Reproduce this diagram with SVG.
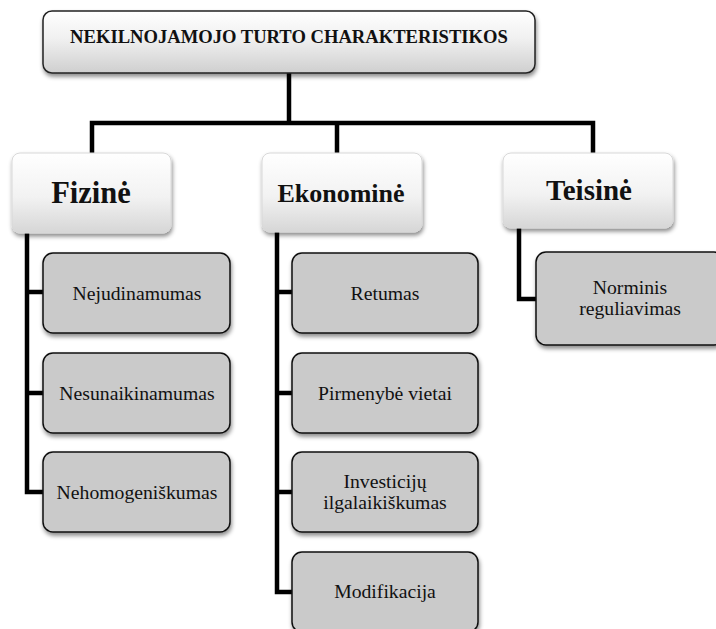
<svg xmlns="http://www.w3.org/2000/svg" width="716" height="629" viewBox="0 0 716 629">
<defs>
<linearGradient id="g1" x1="0" y1="0" x2="0" y2="1">
<stop offset="0" stop-color="#ffffff"/>
<stop offset="0.45" stop-color="#f0f0f0"/>
<stop offset="1" stop-color="#cfcfcf"/>
</linearGradient>
<linearGradient id="g2" x1="0" y1="0" x2="0" y2="1">
<stop offset="0" stop-color="#ffffff"/>
<stop offset="0.55" stop-color="#f2f2f2"/>
<stop offset="1" stop-color="#d6d6d6"/>
</linearGradient>
<filter id="sh" x="-10%" y="-10%" width="125%" height="135%">
<feDropShadow dx="1" dy="3" stdDeviation="2" flood-color="#000" flood-opacity="0.45"/>
</filter>
</defs>
<style>
.top{fill:url(#g1);stroke:#222;stroke-width:1.5;filter:url(#sh)}
.cat{fill:url(#g2);stroke:#d8d8d8;stroke-width:1;filter:url(#sh)}
.leaf{fill:#cacaca;stroke:#111;stroke-width:1.5;filter:url(#sh)}
.t{font-family:"Liberation Serif","Times New Roman",serif;fill:#111;text-anchor:middle}
.tb{font-weight:bold}
.ln{fill:none;stroke:#000;stroke-width:4.5;stroke-linejoin:miter;stroke-linecap:butt}
</style>
<g id="connectors">
<path class="ln" d="M289,73 V123"/>
<path class="ln" d="M92,153 V123 H593 V153"/>
<path class="ln" d="M337,123 V153"/>
<path class="ln" d="M27,233 V492 H43"/>
<path class="ln" d="M27,292 H43 M27,393 H43"/>
<path class="ln" d="M277,232 V592 H292"/>
<path class="ln" d="M277,292 H292 M277,393 H292 M277,492 H292"/>
<path class="ln" d="M519,228 V299 H536"/>
</g>
<g id="root">
<rect class="top" x="43" y="11" width="492" height="62" rx="9"/>
<text class="t tb" x="289" y="43" font-size="18.6">NEKILNOJAMOJO TURTO CHARAKTERISTIKOS</text>
</g>
<g id="fizine">
<rect class="cat" x="12" y="153" width="159" height="80" rx="8"/>
<text class="t tb" x="91" y="203" font-size="30.5">Fizinė</text>
</g>
<g id="ekonomine">
<rect class="cat" x="262" y="153" width="160" height="79" rx="8"/>
<text class="t tb" x="341" y="202" font-size="26">Ekonominė</text>
</g>
<g id="teisine">
<rect class="cat" x="503" y="153" width="170" height="75" rx="8"/>
<text class="t tb" x="589" y="200" font-size="29">Teisinė</text>
</g>
<g id="nejudinamumas">
<rect class="leaf" x="43" y="253" width="187" height="80" rx="10"/>
<text class="t" x="137" y="300" font-size="19.7">Nejudinamumas</text>
</g>
<g id="nesunaikinamumas">
<rect class="leaf" x="43" y="353" width="187" height="80" rx="10"/>
<text class="t" x="137" y="400" font-size="19.7">Nesunaikinamumas</text>
</g>
<g id="nehomogeniskumas">
<rect class="leaf" x="43" y="452" width="187" height="80" rx="10"/>
<text class="t" x="137" y="499" font-size="19.7">Nehomogeniškumas</text>
</g>
<g id="retumas">
<rect class="leaf" x="292" y="253" width="186" height="80" rx="10"/>
<text class="t" x="385" y="300" font-size="19.7">Retumas</text>
</g>
<g id="pirmenybe">
<rect class="leaf" x="292" y="353" width="186" height="80" rx="10"/>
<text class="t" x="385" y="400" font-size="19.7">Pirmenybė vietai</text>
</g>
<g id="investiciju">
<rect class="leaf" x="292" y="452" width="186" height="80" rx="10"/>
<text class="t" x="385" y="488" font-size="19.7">Investicijų</text>
<text class="t" x="385" y="509" font-size="19.7">ilgalaikiškumas</text>
</g>
<g id="modifikacija">
<rect class="leaf" x="292" y="552" width="186" height="80" rx="10"/>
<text class="t" x="385" y="598" font-size="19.7">Modifikacija</text>
</g>
<g id="norminis">
<rect class="leaf" x="536" y="252" width="188" height="93" rx="10"/>
<text class="t" x="630" y="294" font-size="19.7">Norminis</text>
<text class="t" x="630" y="315" font-size="19.7">reguliavimas</text>
</g>
</svg>
